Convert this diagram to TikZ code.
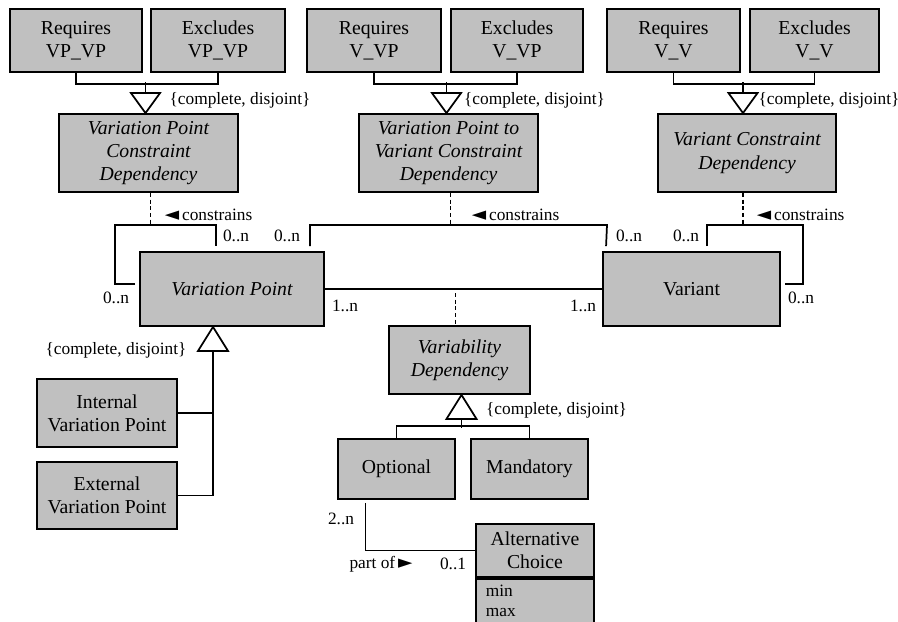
\documentclass[tikz,border=0pt]{standalone}
\usepackage{fontspec}
\setmainfont{Liberation Serif}
\newfontfamily\symfont{DejaVu Sans}
\usetikzlibrary{calc}

\definecolor{clsgray}{RGB}{192,192,192}
\newcommand{\boxfont}{\fontsize{14.8}{17.5}\selectfont}
\newcommand{\lblfont}{\fontsize{13}{15}\selectfont}
\newcommand{\dirL}{{\symfont\fontsize{14}{14}\selectfont ◄}}
\newcommand{\dirR}{{\symfont\fontsize{14}{14}\selectfont ►}}

\tikzset{every picture/.style={line width=1.3pt}}
\tikzset{cls/.style={draw, fill=clsgray, line width=1.4pt, inner sep=0pt, align=center, font=\boxfont},
  wh/.style n args={2}{minimum width=#1*0.75pt, minimum height=#2*0.75pt},
  lbl/.style={inner sep=0.75pt, font=\lblfont},
  dep/.style={dash pattern={on 3pt off 2pt}}}
\tikzset{pics/gendown/.style={code={\draw[fill=white] (0,0) -- (-14.5,20) -- (14.5,20) -- cycle; \coordinate (-base) at (0,20);}}}
\tikzset{pics/genup/.style={code={\draw[fill=white] (0,0) -- (-15,-24) -- (15,-24) -- cycle; \coordinate (-base) at (0,-24);}}}

\begin{document}
\begin{tikzpicture}[x=0.75pt,y=0.75pt,yscale=-1,xscale=1]
\useasboundingbox (0,0) rectangle (898,621);
\clip (0,0) rectangle (898,621);

%Classes: constraint kinds
\node (rqVPVP) at (76,40.5) [cls, wh={132}{63}] {Requires\\VP\_VP};
\node (exVPVP) at (218,40.5) [cls, wh={134}{63}] {Excludes\\VP\_VP};
\node (rqVVP) at (374,40.5) [cls, wh={134}{63}] {Requires\\V\_VP};
\node (exVVP) at (517,40.5) [cls, wh={132}{63}] {Excludes\\V\_VP};
\node (rqVV) at (673.5,40.5) [cls, wh={133}{63}] {Requires\\V\_V};
\node (exVV) at (814.5,40.5) [cls, wh={129}{63}] {Excludes\\V\_V};

%Classes: constraint dependencies
\node (vpcd) at (148.5,153) [cls, wh={179}{78}, font=\boxfont\itshape] {Variation Point\\Constraint\\Dependency};
\node (vpvcd) at (448.5,153) [cls, wh={179}{78}, font=\boxfont\itshape] {Variation Point to\\Variant Constraint\\Dependency};
\node (vcd) at (747,153) [cls, wh={178}{78}, font=\boxfont\itshape] {Variant Constraint\\Dependency};

%Classes: main
\node (vp) at (232,289) [cls, wh={184}{74}, font=\boxfont\itshape] {Variation Point};
\node (var) at (691.5,289) [cls, wh={177}{74}] {Variant};
\node (vd) at (459.5,360) [cls, wh={141}{68}, font=\boxfont\itshape] {Variability\\Dependency};
\node (ivp) at (107,413) [cls, wh={140}{68}] {Internal\\Variation Point};
\node (evp) at (107,495.5) [cls, wh={140}{67}] {External\\Variation Point};
\node (opt) at (396.5,469) [cls, wh={117}{60}] {Optional};
\node (man) at (529.5,469) [cls, wh={117}{60}] {Mandatory};
\node (ac) at (535,550.5) [cls, wh={118}{53}] {Alternative\\Choice};
\node (acAttr) at (ac.south) [cls, anchor=north, wh={118}{60}] {};
\node (acAttrTxt) at ([shift={(9,5)}]acAttr.north west) [lbl, anchor=north west, align=left, font=\fontsize{13}{15.5}\selectfont] {min\\max};

%Generalizations (top)
\pic (g1) at ([shift={(-3,0)}]vpcd.north) {gendown};
\draw (rqVPVP.south) -- ++(0,11) -| (exVPVP.south);
\draw (g1-base) -- ++(0,-11);
\pic (g2) at ([shift={(-2,0)}]vpvcd.north) {gendown};
\draw (rqVVP.south) -- ++(0,11) -| (exVVP.south);
\draw (g2-base) -- ++(0,-11);
\pic (g3) at ([shift={(-4,0)}]vcd.north) {gendown};
\draw (rqVV.south) -- ++(0,11) -| (exVV.south);
\draw (g3-base) -- ++(0,-11);

%Generalizations (bottom)
\pic (g4) at ([shift={(-19,0)}]vp.south) {genup};
\draw (g4-base) |- (evp.east);
\draw (ivp.east) -- (ivp.east -| g4-base);
\pic (g5) at ([shift={(2,0)}]vd.south) {genup};
\draw (g5-base) -- ++(0,9);
\draw (opt.north) -- ++(0,-12) -| (man.north);

%Associations: constrains
\coordinate (k1) at (115,225);
\draw [dep] ([shift={(2,0)}]vpcd.south) -- ([shift={(2,0)}]vpcd.south |- k1);
\draw ([shift={(-4,-5)}]vp.west) -| (k1) -| ([shift={(-16,-5)}]vp.north);
\coordinate (k2) at (607,225);
\draw [dep] ([shift={(2,0)}]vpvcd.south) -- ([shift={(2,0)}]vpvcd.south |- k2);
\draw ([shift={(-15,-5)}]vp.north east) |- (k2) -- ([shift={(4,-5)}]var.north west);
\coordinate (k3) at (803,225);
\draw [dep] ([shift={(-4,0)}]vcd.south) -- ([shift={(-4,0)}]vcd.south |- k3);
\draw ([shift={(105,-5)}]var.north west) |- (k3) |- ([shift={(4,-5)}]var.east);

%Association VP - Variant
\draw (vp.east) -- (var.west);
\draw [dep] ([shift={(-4,4)}]vd.north |- vp.east) -- ([shift={(-4,0)}]vd.north);

%Association part of
\draw ([shift={(-31,3)}]opt.south) |- (ac.west);

% Text Node
\node (gs1) at (240,100) [lbl] {\{complete, disjoint\}};
\node (gs2) at (534.5,100) [lbl] {\{complete, disjoint\}};
\node (gs3) at (829,100) [lbl] {\{complete, disjoint\}};
\node (gs4) at (116,350) [lbl] {\{complete, disjoint\}};
\node (gs5) at (556.5,410) [lbl] {\{complete, disjoint\}};
% Text Node
\node (cn1) at (163,215) [lbl, anchor=west] {\dirL\,constrains};
\node (cn2) at (470,215) [lbl, anchor=west] {\dirL\,constrains};
\node (cn3) at (755,215) [lbl, anchor=west] {\dirL\,constrains};
% Text Node
\node (m1) at (236,236) [lbl] {0..n};
\node (m2) at (287,236) [lbl] {0..n};
\node (m3) at (629,236) [lbl] {0..n};
\node (m4) at (686,236) [lbl] {0..n};
\node (m5) at (116,298) [lbl] {0..n};
\node (m6) at (801,298) [lbl] {0..n};
\node (m7) at (345,306) [lbl] {1..n};
\node (m8) at (583,306) [lbl] {1..n};
\node (m9) at (341,519) [lbl] {2..n};
\node (m10) at (453,564) [lbl] {0..1};
\node (po) at (381,564) [lbl] {part of\,\dirR};

\end{tikzpicture}
\end{document}
